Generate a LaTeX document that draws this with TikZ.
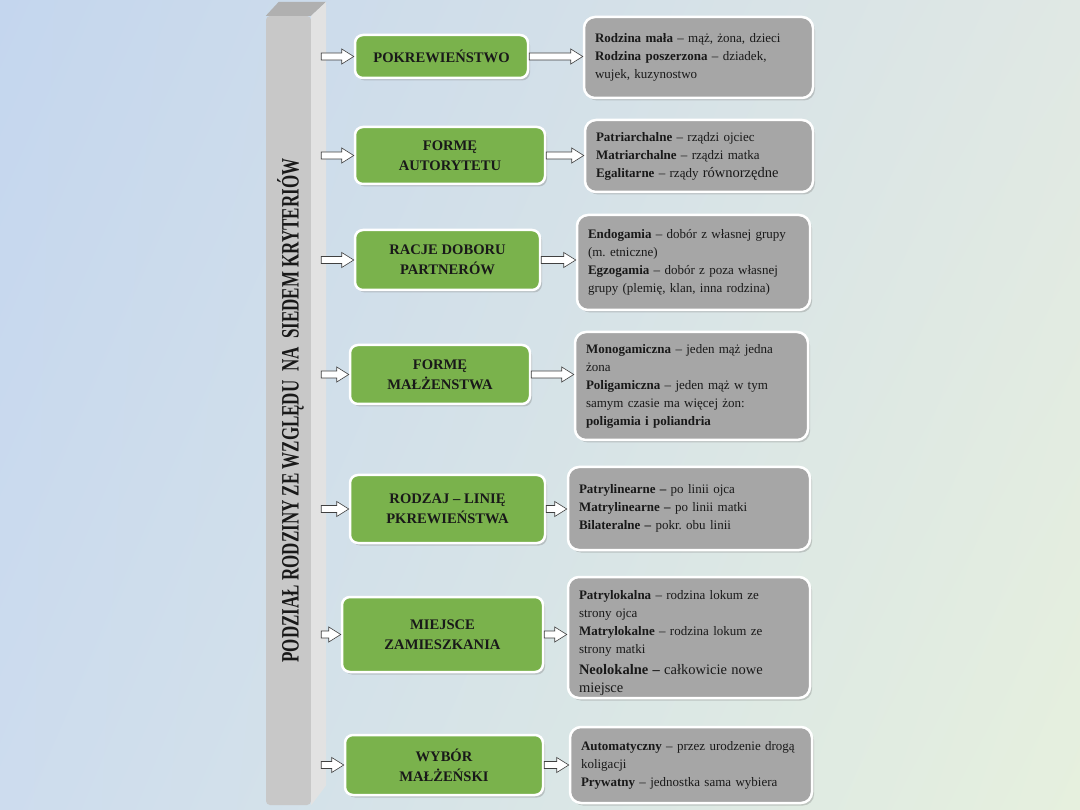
\documentclass[tikz,border=0pt]{standalone}
\usepackage{fontspec}
\setmainfont{Liberation Serif}
\usepackage{graphicx}
\usetikzlibrary{calc,shadows,shadings}
\frenchspacing

\definecolor{zielen}{RGB}{122,178,76}
\definecolor{szary}{RGB}{166,166,166}
\definecolor{tloA}{RGB}{196,214,238}
\definecolor{tloB}{RGB}{224,232,228}
\definecolor{tloC}{RGB}{205,220,238}
\definecolor{tloD}{RGB}{230,240,222}
\definecolor{belkaPrzod}{RGB}{200,200,200}
\definecolor{belkaGora}{RGB}{176,176,176}
\definecolor{belkaBok}{RGB}{226,226,226}

% block arrow between two points on one level
\newcommand{\strzalka}[2]{%
  \draw[strz] let \p1=(#1), \p2=(#2) in
    (\x1,\y1+3.5pt) -- (\x2-12pt,\y1+3.5pt) -- (\x2-12pt,\y1+7.5pt) -- (\x2,\y1)
    -- (\x2-12pt,\y1-7.5pt) -- (\x2-12pt,\y1-3.5pt) -- (\x1,\y1-3.5pt) -- cycle;}

\begin{document}
\begin{tikzpicture}[x=1pt, y=-1pt,
  catbox/.style={draw=white, line width=2.5pt, fill=zielen, rounded corners=8pt,
    align=center, text=black!90, font=\fontsize{14.6}{20}\selectfont\bfseries,
    drop shadow={shadow xshift=2pt, shadow yshift=-2.5pt, opacity=0.35}},
  infobox/.style={draw=white, line width=2.5pt, fill=szary, rounded corners=11pt,
    align=left, inner xsep=11pt, text=black!90, font=\fontsize{13}{18}\selectfont,
    drop shadow={shadow xshift=2pt, shadow yshift=-2.5pt, opacity=0.35}},
  strz/.style={fill=white, draw=black!75, line width=0.6pt}]
  % background
  \useasboundingbox (0,0) rectangle (1080,810);
  \shade[upper left=tloA, upper right=tloB, lower left=tloC, lower right=tloD]
    (0,0) rectangle (1080,810);
  % title bar
  \node[fill=belkaPrzod, rounded corners=4pt,
    minimum width=45pt, minimum height=789pt, inner sep=0pt] (bar) at (288.5,410.5) {};
  \fill[belkaGora] (bar.north west) -- ++(13,-14)
    -- ([shift={(15,-14)}]bar.north east) -- (bar.north east) -- cycle;
  \fill[belkaBok] (bar.north east) -- ++(15,-14)
    -- ([shift={(15,-20)}]bar.south east) -- (bar.south east) -- cycle;
  \node[rotate=90, text=black!90, font=\fontsize{25}{25}\selectfont\bfseries] (tytul)
    at ([xshift=2pt]bar.center)
    {\scalebox{0.68}[1]{PODZIAŁ RODZINY ZE WZGLĘDU\ \ NA\ \ SIEDEM KRYTERIÓW}};
  \coordinate (bok) at ([xshift=10pt]bar.east);
  % criteria
  \node[catbox, minimum width=173pt, minimum height=43pt] (pokr) at (441.5,56.5) {POKREWIEŃSTWO};
  \node[catbox, minimum width=190pt, minimum height=57pt] (autor) at (450,155.5) {FORMĘ\\AUTORYTETU};
  \node[catbox, minimum width=185pt, minimum height=60pt] (dobor) at (447.5,260) {RACJE DOBORU\\PARTNERÓW};
  \node[catbox, minimum width=180pt, minimum height=59pt] (malz) at (440,374.5) {FORMĘ\\MAŁŻENSTWA};
  \node[catbox, minimum width=195pt, minimum height=68pt] (linia) at (447.5,509) {RODZAJ – LINIĘ\\PKREWIEŃSTWA};
  \node[catbox, minimum width=201pt, minimum height=75pt] (miejsce) at (442.5,634.5) {MIEJSCE\\ZAMIESZKANIA};
  \node[catbox, minimum width=198pt, minimum height=60pt] (wybor) at (444,765) {WYBÓR\\MAŁŻEŃSKI};
  % descriptions
  \node[infobox, text width=207pt, minimum height=81pt] (pokr-opis) at (698.5,57.5)
    {\textbf{Rodzina mała} – mąż, żona, dzieci\\
     \textbf{Rodzina poszerzona} – dziadek,\\
     wujek, kuzynostwo};
  \node[infobox, text width=206pt, minimum height=72pt] (autor-opis) at (699,156)
    {\textbf{Patriarchalne} – rządzi ojciec\\
     \textbf{Matriarchalne} – rządzi matka\\
     \textbf{Egalitarne} – rządy {\fontsize{14.5}{18}\selectfont równorzędne}};
  \node[infobox, text width=211pt, minimum height=95pt] (dobor-opis) at (693.5,262.5)
    {\textbf{Endogamia} – dobór z własnej grupy\\
     (m. etniczne)\\
     \textbf{Egzogamia} – dobór z poza własnej\\
     grupy (plemię, klan, inna rodzina)};
  \node[infobox, text width=211pt, minimum height=108pt] (malz-opis) at (691.5,386)
    {\textbf{Monogamiczna} – jeden mąż jedna\\
     żona\\
     \textbf{Poligamiczna} – jeden mąż w tym\\
     samym czasie ma więcej żon:\\
     \textbf{poligamia i poliandria}};
  \node[infobox, text width=220pt, minimum height=83pt] (linia-opis) at (689,508.5)
    {\textbf{Patrylinearne –} po linii ojca\\
     \textbf{Matrylinearne –} po linii matki\\
     \textbf{Bilateralne –} pokr. obu linii};
  \node[infobox, text width=220pt, minimum height=121pt, inner ysep=1pt] (miejsce-opis) at (689,637.5)
    {\rule{0pt}{21pt}\textbf{Patrylokalna} – rodzina lokum ze\\
     strony ojca\\
     \textbf{Matrylokalne} – rodzina lokum ze\\
     strony matki\\[1pt]
     {\fontsize{14.5}{20}\selectfont\textbf{Neolokalne –} całkowicie nowe\\
     miejsce}};
  \node[infobox, text width=220pt, minimum height=76pt] (wybor-opis) at (691,765)
    {\textbf{Automatyczny} – przez urodzenie drogą\\
     koligacji\\
     \textbf{Prywatny} – jednostka sama wybiera};
  % arrows
  \foreach \k in {pokr,autor,dobor,malz,linia,miejsce,wybor}{
    \strzalka{bok |- \k.west}{\k.west}
    \strzalka{\k.east}{\k-opis.west |- \k.east}
  }
\end{tikzpicture}
\end{document}
